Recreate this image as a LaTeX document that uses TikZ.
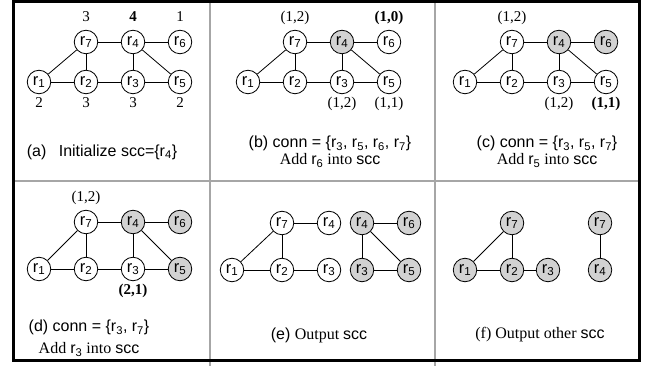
\documentclass[tikz,border=0pt]{standalone}
\usepackage{fontspec}
\setmainfont{Liberation Serif}
\setsansfont{Liberation Sans}
\usetikzlibrary{positioning}
\newcommand{\vfont}{\sffamily\fontsize{16.5}{16.5}\selectfont}
\newcommand{\nfont}{\rmfamily\fontsize{15}{15}\selectfont}
\newcommand{\cfont}{\sffamily\fontsize{16}{17}\selectfont}
\newcommand{\rv}[1]{\textsf{r\textsubscript{#1}}}
\newcommand{\scc}{\textsf{scc}}
\tikzstyle{vert} = [circle, draw=black, line width=0.8pt, minimum size=23.5pt, inner sep=0pt, fill=white, font=\vfont]
\tikzstyle{done} = [vert, fill=gray!35]
\tikzstyle{edge} = [line width=0.8pt]
\tikzstyle{captext} = [align=center, font=\cfont]
\tikzstyle{every label} = [font=\nfont, inner sep=0pt, text height=10.5pt, text depth=3.8pt]
\tikzset{hi/.style={label={[label distance=4.5pt]above:#1}},
         lo/.style={label={[label distance=3pt]below:#1}}}

\begin{document}
\begin{tikzpicture}[x=1pt, y=-1pt, node distance=47pt]
\useasboundingbox (0,0) rectangle (650,366);
% table
\draw[gray!70, line width=2pt] (210,0) -- (210,366) (435,0) -- (435,366) (13,181) -- (640,181);
\draw[line width=3pt] (13.5,2) rectangle (639.5,360);

% (a)
\node (a1) [vert, lo=2] at (39,82) {\rv{1}};
\node (a2) [vert, right of=a1, lo=3] {\rv{2}};
\node (a3) [vert, right of=a2, lo=3] {\rv{3}};
\node (a5) [vert, right of=a3, lo=2] {\rv{5}};
\node (a7) [vert, node distance=40pt, above of=a2, hi=3] {\rv{7}};
\node (a4) [vert, node distance=40pt, above of=a3, hi=\textbf{4}] {\rv{4}};
\node (a6) [vert, node distance=40pt, above of=a5, hi=1] {\rv{6}};
\draw [edge] (a7) -- (a4) -- (a6);
\draw [edge] (a1) -- (a2) -- (a3) -- (a5);
\draw [edge] (a7) -- (a1);
\draw [edge] (a7) -- (a2);
\draw [edge] (a4) -- (a3);
\draw [edge] (a4) -- (a5);
\node (capa) [captext] at (102,152) {(a)\hspace{0.5em} Initialize \scc=\{\rv{4}\}};

% (b)
\node (b1) [vert] at (248,82) {\rv{1}};
\node (b2) [vert, right of=b1] {\rv{2}};
\node (b3) [vert, right of=b2, lo={(1,2)}] {\rv{3}};
\node (b5) [vert, right of=b3, lo={(1,1)}] {\rv{5}};
\node (b7) [vert, node distance=40pt, above of=b2, hi={(1,2)}] {\rv{7}};
\node (b4) [done, node distance=40pt, above of=b3] {\rv{4}};
\node (b6) [vert, node distance=40pt, above of=b5, hi={\textbf{(1,0)}}] {\rv{6}};
\draw [edge] (b7) -- (b4) -- (b6);
\draw [edge] (b1) -- (b2) -- (b3) -- (b5);
\draw [edge] (b7) -- (b1);
\draw [edge] (b7) -- (b2);
\draw [edge] (b4) -- (b3);
\draw [edge] (b4) -- (b5);
\node (capb) [captext] at (330,152) {(b) conn = \{\rv{3}, \rv{5}, \rv{6}, \rv{7}\}\\ \rmfamily Add \rv{6} into \scc};

% (c)
\node (c1) [vert] at (465,82) {\rv{1}};
\node (c2) [vert, right of=c1] {\rv{2}};
\node (c3) [vert, right of=c2, lo={(1,2)}] {\rv{3}};
\node (c5) [vert, right of=c3, lo={\textbf{(1,1)}}] {\rv{5}};
\node (c7) [vert, node distance=40pt, above of=c2, hi={(1,2)}] {\rv{7}};
\node (c4) [done, node distance=40pt, above of=c3] {\rv{4}};
\node (c6) [done, node distance=40pt, above of=c5] {\rv{6}};
\draw [edge] (c7) -- (c4) -- (c6);
\draw [edge] (c1) -- (c2) -- (c3) -- (c5);
\draw [edge] (c7) -- (c1);
\draw [edge] (c7) -- (c2);
\draw [edge] (c4) -- (c3);
\draw [edge] (c4) -- (c5);
\node (capc) [captext] at (547,152) {(c) conn = \{\rv{3}, \rv{5}, \rv{7}\}\\ \rmfamily Add \rv{5} into \scc};

% (d)
\node (d1) [vert] at (39,269) {\rv{1}};
\node (d2) [vert, right of=d1] {\rv{2}};
\node (d3) [vert, right of=d2, lo={\textbf{(2,1)}}] {\rv{3}};
\node (d5) [done, right of=d3] {\rv{5}};
\node (d7) [vert, above of=d2, hi={(1,2)}] {\rv{7}};
\node (d4) [done, above of=d3] {\rv{4}};
\node (d6) [done, above of=d5] {\rv{6}};
\draw [edge] (d7) -- (d4) -- (d6);
\draw [edge] (d1) -- (d2) -- (d3) -- (d5);
\draw [edge] (d7) -- (d1);
\draw [edge] (d7) -- (d2);
\draw [edge] (d4) -- (d3);
\draw [edge] (d4) -- (d5);
\node (capd) [captext] at (89,338) {(d) conn = \{\rv{3}, \rv{7}\}\\[5pt] \rmfamily Add \rv{3} into \scc};

% (e)
\node (e1) [vert] at (232,270) {\rv{1}};
\node (e2) [vert, node distance=50pt, right of=e1] {\rv{2}};
\node (e3) [vert, right of=e2] {\rv{3}};
\node (e7) [vert, above of=e2] {\rv{7}};
\node (e4) [vert, right of=e7] {\rv{4}};
\node (e3b) [done] at (362,270) {\rv{3}};
\node (e5b) [done, right of=e3b] {\rv{5}};
\node (e4b) [done, above of=e3b] {\rv{4}};
\node (e6b) [done, right of=e4b] {\rv{6}};
\draw [edge] (e7) -- (e4);
\draw [edge] (e1) -- (e2) -- (e3);
\draw [edge] (e7) -- (e1);
\draw [edge] (e7) -- (e2);
\draw [edge] (e4b) -- (e6b);
\draw [edge] (e4b) -- (e3b) -- (e5b);
\draw [edge] (e4b) -- (e5b);
\node (cape) [captext] at (319,335) {(e) \rmfamily Output \scc};

% (f)
\node (f1) [done] at (465,270) {\rv{1}};
\node (f2) [done, right of=f1] {\rv{2}};
\node (f3) [done, node distance=36pt, right of=f2] {\rv{3}};
\node (f7) [done, above of=f2] {\rv{7}};
\node (f4b) [done] at (600,270) {\rv{4}};
\node (f7b) [done, above of=f4b] {\rv{7}};
\draw [edge] (f1) -- (f2) -- (f3);
\draw [edge] (f7) -- (f1);
\draw [edge] (f7) -- (f2);
\draw [edge] (f7b) -- (f4b);
\node (capf) [captext] at (540,335) {\rmfamily (f) Output other \scc};
\end{tikzpicture}
\end{document}
